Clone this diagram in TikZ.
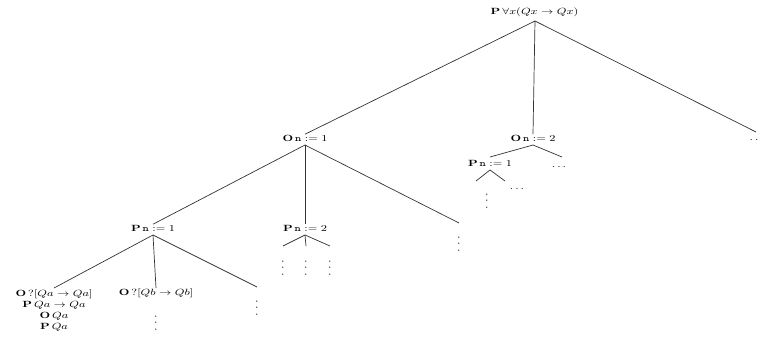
\documentclass[tikz,border=0pt]{standalone}
\usepackage{amsmath,amssymb,graphicx}
\newcommand\wide[1]{\scalebox{1.33}[1]{#1}}
\newcommand\vdts{\scalebox{1}[1.6]{$\vdots$}}
\begin{document}
\begin{tikzpicture}[x=1pt,y=-1pt,
  lbl/.style={inner sep=0.5pt,font=\fontsize{9.5}{11}\selectfont},
  edge/.style={draw=black!80,line width=0.7pt},
  vd/.style={inner sep=0pt,anchor=north,font=\fontsize{9}{9}\selectfont},
  hd/.style={inner sep=0pt,font=\fontsize{9}{9}\selectfont}]
\useasboundingbox (0,0) rectangle (760,340);
% nodes
\node[lbl] (root) at (534.5,12) {\wide{$\mathbf{P}\,\forall x(Qx\rightarrow Qx)$}};
\node[lbl] (o1) at (305,138) {\wide{$\mathbf{O}\,\mathtt{n}:=1$}};
\node[lbl] (o2) at (533,138) {\wide{$\mathbf{O}\,\mathtt{n}:=2$}};
\node[hd] (rdots) at (754,140) {\wide{$.\,.$}};
\node[lbl] (p1) at (153,228) {\wide{$\mathbf{P}\,\mathtt{n}:=1$}};
\node[lbl] (p2) at (305,228) {\wide{$\mathbf{P}\,\mathtt{n}:=2$}};
\node[vd] (o1v) at (459,227) {\vdts};
\node[lbl,anchor=north] (qa) at (54,288) {\wide{\begin{tabular}{@{}c@{}}$\mathbf{O}\,?[Qa\rightarrow Qa]$\\ $\mathbf{P}\,Qa\rightarrow Qa$\\ $\mathbf{O}\,Qa$\\ $\mathbf{P}\,Qa$\end{tabular}}};
\node[lbl,anchor=north] (qb) at (156,288) {\wide{$\mathbf{O}\,?[Qb\rightarrow Qb]$}};
\node[vd] (qbv) at (156,306) {\vdts};
\node[vd] (p1v) at (257,291) {\vdts};
\node[vd] (p2a) at (283,251) {\vdts};
\node[vd] (p2b) at (306,251) {\vdts};
\node[vd] (p2c) at (330,251) {\vdts};
\node[lbl] (q1) at (490,163) {\wide{$\mathbf{P}\,\mathtt{n}:=1$}};
\node[hd] (q2) at (560,167) {\wide{$\dots$}};
\node[vd] (q1v) at (487,184) {\vdts};
\node[hd] (q1d) at (518,189) {\wide{$\dots$}};
% coordinates for edge ends
\coordinate (rootb) at (535,21);
\coordinate (o1b) at (305,145);
\coordinate (o2b) at (533,145);
\coordinate (p1b) at (153,235);
\coordinate (p2b) at (305,235);
\coordinate (q1b) at (490,170);
\coordinate (e1) at (756,132);
\coordinate (e2) at (459,223);
\coordinate (e3) at (257,287);
\coordinate (f1) at (283,246);
\coordinate (f2) at (306,246);
\coordinate (f3) at (330,246);
\coordinate (g1) at (476,181);
\coordinate (g2) at (505,181);
\coordinate (h1) at (490,157);
\coordinate (h2) at (562,157);
% edges
\draw[edge] (rootb) -- (o1.north);
\draw[edge] (rootb) -- (o2.north);
\draw[edge] (rootb) -- (e1);
\draw[edge] (o1b) -- (p1.north);
\draw[edge] (o1b) -- (p2.north);
\draw[edge] (o1b) -- (e2);
\draw[edge] (p1b) -- (qa.north);
\draw[edge] (p1b) -- (qb.north);
\draw[edge] (p1b) -- (e3);
\draw[edge] (p2b) -- (f1);
\draw[edge] (p2b) -- (f2);
\draw[edge] (p2b) -- (f3);
\draw[edge] (o2b) -- (h1);
\draw[edge] (o2b) -- (h2);
\draw[edge] (q1b) -- (g1);
\draw[edge] (q1b) -- (g2);
\end{tikzpicture}
\end{document}
